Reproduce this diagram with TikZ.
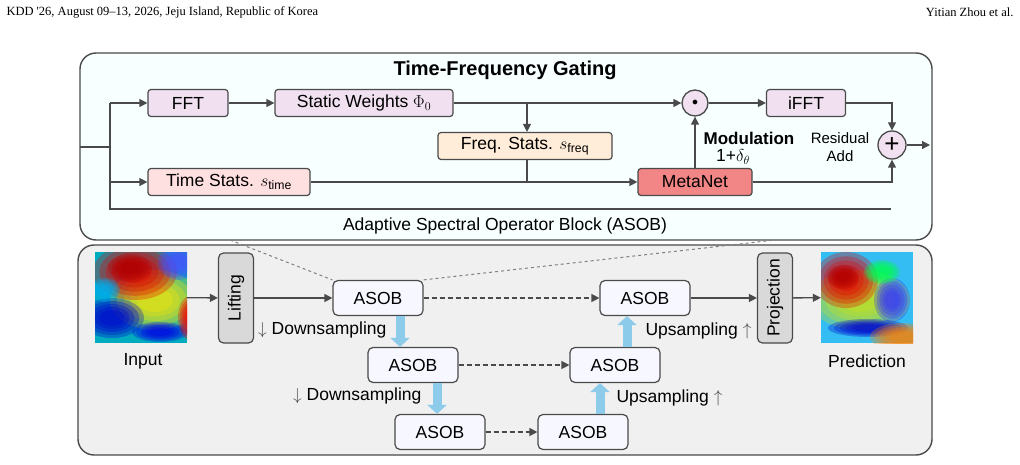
\documentclass[tikz,border=0pt]{standalone}
\usepackage{fontspec}
\setmainfont{Liberation Sans}
\newfontfamily\hdrfont{Liberation Serif}
\usetikzlibrary{arrows.meta}
\definecolor{edge}{HTML}{4A4A4A}
\definecolor{skyarr}{HTML}{8DCBEA}
\tikzset{
 box/.style={draw=edge,line width=1.2pt,rounded corners=3pt,minimum height=27pt,font=\fontsize{17.5}{20}\selectfont,inner sep=2pt},
 asob/.style={box,fill=blue!3,minimum width=90pt,minimum height=35pt,rounded corners=5pt},
 vbox/.style={box,fill=gray!30,minimum width=35pt,minimum height=90pt,rounded corners=5pt},
 arr/.style={edge,line width=1.3pt,-{Triangle[length=8pt,width=8pt]}},
 ln/.style={edge,line width=1.3pt},
 dsh/.style={arr,dashed,dash pattern=on 5pt off 3pt},
 fat/.style={skyarr,line width=9pt,-{Triangle[length=9pt,width=19pt]}},
 lbl/.style={font=\fontsize{17.5}{20}\selectfont},
}
\newcommand{\myblob}[5]{\foreach \s in {1,0.85,0.7,0.55,0.4}{\fill[#1,opacity=0.3] (#2,#3) ellipse ({\s*#4} and {\s*#5});}}
\begin{document}
\begin{tikzpicture}[x=1pt,y=-1pt]
\useasboundingbox (0,0) rectangle (1020,465);
\node[anchor=west,font=\hdrfont\fontsize{12.5}{14}\selectfont] (h1) at (3,12) {KDD '26, August 09\textendash13, 2026, Jeju Island, Republic of Korea};
\node[anchor=east,font=\hdrfont\fontsize{12.5}{14}\selectfont] (h2) at (1017,12) {Yitian Zhou et al.};
% panels
\draw[edge,line width=1.4pt,fill=blue!4!cyan!3,rounded corners=16pt] (80,53) rectangle (932,240);
\draw[edge,line width=1.4pt,fill=gray!12,rounded corners=16pt] (78,245) rectangle (932,455);
\node[font=\bfseries\fontsize{20}{22}\selectfont] (title) at (505,70) {Time-Frequency Gating};
\node[lbl] (asobl) at (505,226) {Adaptive Spectral Operator Block (ASOB)};
% top nodes
\node[box,fill=violet!12,minimum width=80pt] (fft) at (188,103) {FFT};
\node[box,fill=violet!12,minimum width=178pt] (sw) at (364,103) {Static Weights $\Phi_0$};
\node[box,fill=orange!15,minimum width=174pt] (fs) at (525,146) {Freq. Stats. $s_{\mathrm{freq}}$};
\node[box,fill=red!12,minimum width=162pt] (ts) at (229,182) {Time Stats. $s_{\mathrm{time}}$};
\node[box,fill=red!45!white!95!black,minimum width=114pt] (mn) at (695,182) {MetaNet};
\node[box,fill=violet!12,minimum width=79pt] (ifft) at (806,103) {iFFT};
\node[draw=edge,line width=1.3pt,circle,fill=violet!12,minimum size=26pt,inner sep=0pt] (od) at (695,103) {\large$\bullet$};
\node[draw=edge,line width=1.3pt,circle,fill=violet!12,minimum size=28pt,inner sep=0pt,font=\fontsize{26}{26}\selectfont] (pl) at (892,145) {+};
\node[font=\bfseries\fontsize{17}{19}\selectfont] (mod) at (749,138) {Modulation};
\node[lbl] (delta) at (733,157) {1+$\delta_\theta$};
\node[font=\fontsize{15}{18}\selectfont,align=center] (res) at (840,147) {Residual\\Add};
\coordinate (in) at (80,147);
\coordinate (tr) at (110,147);
\coordinate (out) at (930,145);
% top connectors
\draw[ln] (in) -- (tr);
\draw[ln] (110,103) -- (110,209) -- (891,209);
\draw[arr] (110,103) -- (fft);
\draw[arr] (110,182) -- (ts);
\draw[arr] (fft) -- (sw);
\draw[arr] (sw) -- (od);
\draw[arr] (527,103) -- (fs.north -| 527,0);
\draw[ln] (fs.south -| 527,0) -- (527,182);
\draw[arr] (ts) -- (mn);
\draw[arr] (mn) -- (od);
\draw[arr] (od) -- (ifft);
\draw[arr] (ifft.east) -| (pl.north);
\draw[arr] (mn.east) -| (pl.south);
\draw[arr] (pl) -- (out);
% bottom nodes
\node[vbox] (lift) at (236,298) {};
\node[rotate=90,lbl] (liftt) at (lift) {Lifting};
\node[vbox] (proj) at (775,298) {};
\node[rotate=90,lbl] (projt) at (proj) {Projection};
\node[asob] (a1) at (378,298) {ASOB};
\node[asob] (a2) at (413,365) {ASOB};
\node[asob] (a3) at (440,432) {ASOB};
\node[asob] (a4) at (645,298) {ASOB};
\node[asob] (a5) at (615,365) {ASOB};
\node[asob] (a6) at (583,432) {ASOB};
% heatmaps
\begin{scope}
\clip (95,252) rectangle (187,343);
\fill[cyan!70!green] (95,252) rectangle (187,343);
\myblob{yellow!90!orange}{155}{300}{45}{30}
\myblob{red!90!black}{135}{272}{42}{28}
\myblob{red!70!black}{130}{268}{22}{14}
\myblob{blue!80!black}{112}{318}{32}{20}
\myblob{blue!90!black}{160}{332}{28}{10}
\myblob{blue!70}{178}{262}{20}{18}
\myblob{cyan}{105}{290}{15}{12}
\myblob{red}{190}{318}{12}{22}
\end{scope}
\node[inner sep=0pt,minimum width=92pt,minimum height=91pt] (img1) at (141,297.5) {};
\begin{scope}
\clip (821,252) rectangle (913,343);
\fill[cyan!80] (821,252) rectangle (913,343);
\myblob{yellow!80!green}{860}{300}{50}{30}
\myblob{red!90!black}{846}{280}{32}{28}
\myblob{red!70!black}{843}{277}{16}{12}
\myblob{blue!80}{892}{300}{18}{22}
\myblob{blue!80!black}{868}{328}{40}{9}
\myblob{orange}{902}{337}{32}{14}
\myblob{green!70!cyan}{882}{272}{18}{12}
\end{scope}
\node[inner sep=0pt,minimum width=92pt,minimum height=91pt] (img2) at (867,297.5) {};
\node[lbl] (inl) at (143,361) {Input};
\node[lbl] (prl) at (867,361) {Prediction};
% bottom connectors
\draw[arr] (img1) -- (lift);
\draw[arr] (lift) -- (a1);
\draw[dsh] (a1) -- (a4);
\draw[dsh] (a2) -- (a5);
\draw[dsh] (a3) -- (a6);
\draw[arr] (a4) -- (proj);
\draw[arr] (proj) -- (img2);
\draw[gray,line width=1pt,dashed] (230,240) -- (a1.north west);
\draw[gray,line width=1pt,dashed] (a1.north east) -- (775,240);
\draw[fat] (a1.south -| 400,0) -- (a2.north -| 400,0);
\draw[fat] (a2.south -| 437,0) -- (a3.north -| 437,0);
\draw[fat] (a6.north -| 600,0) -- (a5.south -| 600,0);
\draw[fat] (a5.north -| 627,0) -- (a4.south -| 627,0);
\node[lbl,anchor=east] (d1) at (390,330) {\textcolor{edge}{$\downarrow$} Downsampling};
\node[lbl,anchor=east] (d2) at (425,396) {\textcolor{edge}{$\downarrow$} Downsampling};
\node[lbl,anchor=west] (u1) at (642,331) {Upsampling \textcolor{edge}{$\uparrow$}};
\node[lbl,anchor=west] (u2) at (613,398) {Upsampling \textcolor{edge}{$\uparrow$}};
\end{tikzpicture}
\end{document}
